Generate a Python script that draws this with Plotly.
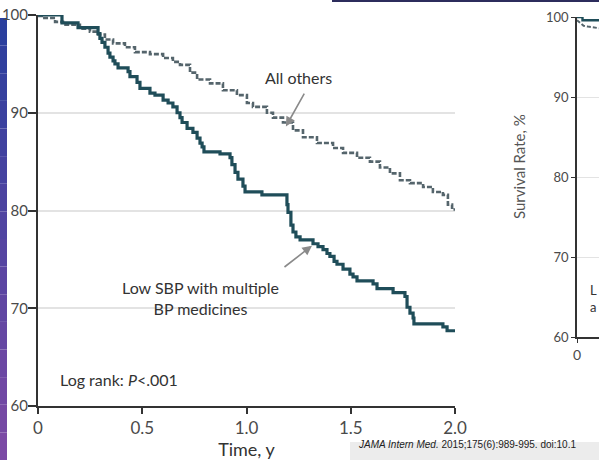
import plotly.graph_objects as go

# ---------------- data ----------------
low_sbp_t = [0, 0.115, 0.192, 0.288, 0.297, 0.307, 0.321, 0.336, 0.345, 0.360, 0.369, 0.384,
             0.432, 0.441, 0.475, 0.489, 0.537, 0.561, 0.600, 0.624, 0.647, 0.667, 0.681, 0.691,
             0.715, 0.743, 0.763, 0.777, 0.787, 0.796, 0.873, 0.921, 0.930, 0.945, 0.959, 0.983,
             0.993, 1.074, 1.194, 1.199, 1.213, 1.223, 1.237, 1.257, 1.319, 1.343, 1.367, 1.386,
             1.400, 1.420, 1.434, 1.463, 1.496, 1.511, 1.530, 1.607, 1.626, 1.703, 1.760, 1.770,
             1.784, 1.799, 1.803, 1.942, 1.962, 2.0]
low_sbp_v = [100, 99.2, 98.7, 98.1, 97.6, 97.2, 96.7, 96.1, 95.7, 95.3, 95.0, 94.6,
             94.2, 93.7, 93.1, 92.5, 92.0, 91.8, 91.3, 91.0, 90.6, 90.0, 89.5, 89.0,
             88.4, 88.0, 87.4, 86.9, 86.5, 86.0, 85.8, 85.4, 84.7, 83.9, 83.2, 82.5,
             81.9, 81.6, 80.6, 79.8, 78.5, 77.8, 77.3, 77.0, 76.6, 76.3, 76.0, 75.6,
             75.3, 74.8, 74.5, 74.0, 73.5, 73.2, 72.8, 72.5, 72.0, 71.6, 71.2, 70.1,
             69.5, 69.0, 68.4, 68.1, 67.7, 67.7]

others_t = [0, 0.024, 0.082, 0.120, 0.201, 0.249, 0.288, 0.321, 0.360, 0.417, 0.465, 0.537,
            0.600, 0.647, 0.681, 0.729, 0.763, 0.825, 0.887, 0.954, 1.002, 1.031, 1.098, 1.127,
            1.175, 1.223, 1.271, 1.338, 1.415, 1.463, 1.530, 1.592, 1.640, 1.688, 1.736, 1.784,
            1.847, 1.894, 1.942, 1.966, 1.986, 2.0]
others_v = [99.9, 99.7, 99.3, 99.0, 98.6, 98.3, 98.0, 97.5, 97.1, 96.7, 96.2, 96.0,
            95.6, 95.2, 94.9, 94.1, 93.4, 93.0, 92.3, 91.8, 91.0, 90.6, 90.0, 89.5,
            89.0, 88.2, 87.5, 86.9, 86.4, 85.9, 85.4, 85.0, 84.4, 83.8, 83.1, 82.8,
            82.4, 81.9, 81.6, 80.6, 80.1, 80.1]

# partial right-hand panel (only its left edge is visible)
right_solid_t = [0, 0.05, 0.05, 0.2]
right_solid_v = [100, 100, 99.6, 99.6]
right_dash_t = [0, 0.03, 0.06, 0.1, 0.2]
right_dash_v = [99.6, 99.2, 98.9, 98.8, 98.6]

x_ticks = [0, 0.5, 1.0, 1.5, 2.0]
x_tick_labels = ["0", "0.5", "1.0", "1.5", "2.0"]
y_ticks = [60, 70, 80, 90, 100]
y_tick_labels = ["60", "70", "80", "90", "100"]

# ---------------- styling ----------------
FONT = "Lato"
SOLID = "#1f4d59"
DASH = "#55656c"
TXT = "#333333"
TICK = "#4a4a4a"
GRID = "#e3e3e3"

W, H = 599, 460
L, T, R, B = 38, 15, 0, 54
PW, PH = W - L - R, H - T - B


def px(xp):
    return (xp - L) / PW


def py(yp):
    return (H - B - yp) / PH


fig = go.Figure()

fig.add_trace(go.Scatter(x=others_t, y=others_v, mode="lines", line_shape="hv",
                         line=dict(color=DASH, width=2.6, dash="5px,2px"),
                         cliponaxis=False, showlegend=False, hoverinfo="skip"))
fig.add_trace(go.Scatter(x=low_sbp_t, y=low_sbp_v, mode="lines", line_shape="hv",
                         line=dict(color=SOLID, width=3.2),
                         cliponaxis=False, showlegend=False, hoverinfo="skip"))

fig.add_trace(go.Scatter(x=right_dash_t, y=right_dash_v, mode="lines",
                         line=dict(color=DASH, width=2, dash="4px,2px"),
                         xaxis="x2", yaxis="y2", showlegend=False, hoverinfo="skip"))
fig.add_trace(go.Scatter(x=right_solid_t, y=right_solid_v, mode="lines",
                         line=dict(color=SOLID, width=2.4),
                         xaxis="x2", yaxis="y2", showlegend=False, hoverinfo="skip"))

axis_common = dict(showline=True, linecolor="#333333", linewidth=2, ticks="outside",
                   tickcolor="#333333", tickwidth=2, zeroline=False, automargin=False)

fig.update_layout(
    width=W, height=H,
    margin=dict(l=L, r=R, t=T, b=B, pad=0, autoexpand=False),
    paper_bgcolor="white", plot_bgcolor="white",
    font=dict(family=FONT, color=TXT),
    xaxis=dict(domain=[0, px(455)], range=[0, 2.0], tickvals=x_ticks, ticktext=x_tick_labels,
               ticklen=6, showgrid=False, tickfont=dict(size=17, color=TICK),
               title=dict(text="Time, y", font=dict(size=18, color=TXT), standoff=2),
               anchor="y", **axis_common),
    yaxis=dict(domain=[0, 1], range=[60, 100], tickvals=y_ticks, ticktext=y_tick_labels,
               ticklen=8, showgrid=True, gridcolor=GRID, gridwidth=1.5, ticklabelstandoff=-3,
               tickfont=dict(size=15, color=TICK), anchor="x", **axis_common),
    xaxis2=dict(domain=[px(577), 1], range=[0, 0.2], tickvals=[0], ticktext=["0"],
                ticklen=4, showgrid=False, tickfont=dict(size=14, color=TICK),
                anchor="y2", showline=True, linecolor="#333333", linewidth=1.5,
                ticks="outside", tickcolor="#333333", zeroline=False, automargin=False),
    yaxis2=dict(domain=[py(337), py(17)], range=[60, 100], tickvals=y_ticks,
                ticktext=y_tick_labels, ticklen=4, showgrid=True, gridcolor=GRID,
                tickfont=dict(size=13, color=TICK), anchor="x2", showline=True,
                linecolor="#333333", linewidth=1.5, ticks="outside", tickcolor="#333333",
                zeroline=False, automargin=False),
)

ann = []
# text labels
ann.append(dict(x=1.247, y=93.6, xref="x", yref="y", text="All others", showarrow=False,
                font=dict(size=16, color=TXT)))
ann.append(dict(x=0.78, y=71.0, xref="x", yref="y", text="Low SBP with multiple<br>BP medicines",
                showarrow=False, align="center", font=dict(size=16, color=TXT)))
ann.append(dict(x=0.096, y=62.7, xref="x", yref="y", text="Log rank: <i>P</i><.001",
                showarrow=False, xanchor="left", font=dict(size=16, color=TXT)))
# arrows
ann.append(dict(x=1.189, y=88.6, ax=1.281, ay=92.1, xref="x", yref="y", axref="x", ayref="y",
                text="", showarrow=True, arrowhead=2, arrowsize=1.2, arrowwidth=1.6,
                arrowcolor="#8a8a8a"))
ann.append(dict(x=1.314, y=76.4, ax=1.175, ay=74.1, xref="x", yref="y", axref="x", ayref="y",
                text="", showarrow=True, arrowhead=2, arrowsize=1.2, arrowwidth=1.6,
                arrowcolor="#8a8a8a"))
# right panel pieces
ann.append(dict(x=px(530), y=py(167), xref="paper", yref="paper", text="Survival Rate, %",
                textangle=-90, showarrow=False, font=dict(size=15, color="#555555")))
ann.append(dict(x=px(588), y=py(300), xref="paper", yref="paper", text="L", xanchor="left",
                showarrow=False, font=dict(size=13, color=TXT)))
ann.append(dict(x=px(588), y=py(317), xref="paper", yref="paper", text="a", xanchor="left",
                showarrow=False, font=dict(size=13, color=TXT)))
# citation
ann.append(dict(x=px(356), y=py(452), xref="paper", yref="paper",
                text="<i>JAMA Intern Med.</i> 2015;175(6):989-995. doi:10.1",
                xanchor="left", showarrow=False,
                font=dict(size=10, color="#222222", family="Liberation Sans Narrow, Liberation Sans")))
fig.update_layout(annotations=ann)

shapes = []
# left gradient bar
c0 = (43, 63, 158)
c1 = (123, 74, 165)
n = 16
top, bot = 18, 460
for i in range(n):
    f = i / (n - 1)
    col = "rgb(%d,%d,%d)" % tuple(int(c0[k] + (c1[k] - c0[k]) * f) for k in range(3))
    y0 = top + (bot - top) * i / n
    y1 = top + (bot - top) * (i + 1) / n
    shapes.append(dict(type="rect", xref="paper", yref="paper", x0=px(0), x1=px(7),
                       y0=py(y1), y1=py(y0), fillcolor=col, line=dict(width=0), layer="below"))
# top navy rule
shapes.append(dict(type="rect", xref="paper", yref="paper", x0=px(332), x1=px(599),
                   y0=py(2), y1=py(0), fillcolor="#2c2c5c", line=dict(width=0)))
# citation box
shapes.append(dict(type="rect", xref="paper", yref="paper", x0=px(350), x1=px(599),
                   y0=py(460), y1=py(442), fillcolor="#ececec", line=dict(width=0), layer="below"))
fig.update_layout(shapes=shapes)

# the page is photographed at its top-left corner: drop the default body margin
fig.write_html("out.html", config={"displayModeBar": False},
               post_script="document.body.style.margin='0';")
